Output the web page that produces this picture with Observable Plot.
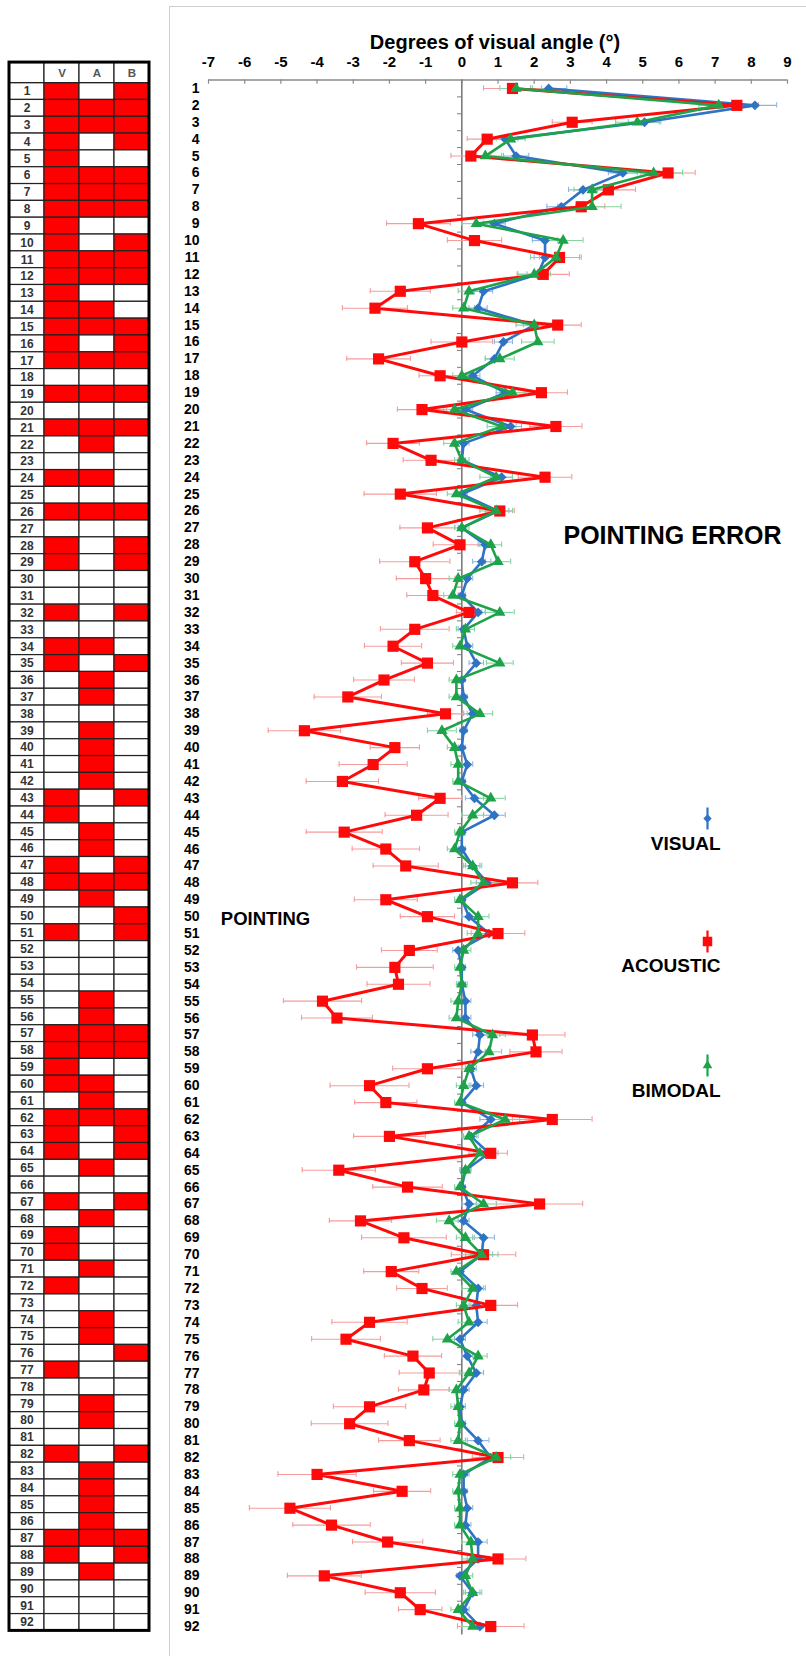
<!DOCTYPE html>
<html><head><meta charset="utf-8">
<script src="https://cdn.jsdelivr.net/npm/d3@7"></script>
<script src="https://cdn.jsdelivr.net/npm/@observablehq/plot@0.6"></script>
<style>
html,body{margin:0;padding:0;background:#fff;}
#wrap{position:relative;width:806px;height:1656px;overflow:hidden;font-family:"Liberation Sans",Arial,sans-serif;}
#wrap svg{position:absolute;top:0;left:0;background:transparent;}
#frame{position:absolute;left:169px;top:6px;right:0;bottom:0;border-left:1px solid #cfcfcf;border-top:1px solid #cfcfcf;}
</style></head><body><div id="wrap"><div id="frame"></div></div>
<script>
const FONT = "Liberation Sans, Arial, Helvetica, sans-serif";
const rows = d3.range(1, 93);
const xTicks = [-7,-6,-5,-4,-3,-2,-1,0,1,2,3,4,5,6,7,8,9];
const axisTitle = "Degrees of visual angle (°)";

const visual = [2.4,8.1,5.05,1.2,1.5,4.45,3.35,2.75,0.9,2.3,
 2.3,2.1,0.6,0.45,2.0,1.15,0.9,0.3,1.2,0.1,
 1.35,0.05,0.0,1.1,0.0,1.0,0.0,0.65,0.55,0.15,
 0.0,0.45,0.05,0.15,0.4,0.0,0.05,0.3,0.05,0.0,
 0.15,0.0,0.35,0.9,0.0,0.0,0.3,0.7,0.0,0.2,
 0.75,-0.1,0.0,0.0,0.1,0.1,0.5,0.45,0.25,0.4,
 0.0,0.8,0.25,0.75,0.1,0.0,0.2,0.05,0.6,0.55,
 -0.05,0.45,0.4,0.45,-0.05,0.15,0.4,0.05,-0.05,0.0,
 0.45,0.8,0.05,0.05,0.15,0.1,0.45,0.45,-0.05,0.3,
 0.05,0.5];
const acoustic = [1.4,7.6,3.05,0.7,0.25,5.7,4.05,3.3,-1.2,0.35,
 2.7,2.25,-1.7,-2.4,2.65,0.0,-2.3,-0.6,2.2,-1.1,
 2.6,-1.9,-0.85,2.3,-1.7,1.05,-0.95,-0.05,-1.3,-1.0,
 -0.8,0.2,-1.3,-1.9,-0.95,-2.15,-3.15,-0.45,-4.35,-1.85,
 -2.45,-3.3,-0.6,-1.25,-3.25,-2.1,-1.55,1.4,-2.1,-0.95,
 1.0,-1.45,-1.85,-1.75,-3.85,-3.45,1.95,2.05,-0.95,-2.55,
 -2.1,2.5,-2.0,0.8,-3.4,-1.5,2.15,-2.8,-1.6,0.6,
 -1.95,-1.1,0.8,-2.55,-3.2,-1.35,-0.9,-1.05,-2.55,-3.1,
 -1.45,1.0,-4.0,-1.65,-4.75,-3.6,-2.05,1.0,-3.8,-1.7,
 -1.15,0.8];
const bimodal = [1.5,7.1,4.85,1.35,0.65,5.3,3.6,3.6,0.4,2.8,
 2.6,2.0,0.2,0.05,2.0,2.1,1.05,0.0,1.4,-0.2,
 1.1,-0.2,0.0,0.95,-0.15,0.95,0.0,0.8,1.0,-0.1,
 -0.25,1.05,0.1,-0.05,1.05,-0.15,-0.15,0.5,-0.55,-0.2,
 -0.1,-0.1,0.8,0.3,-0.05,-0.2,0.3,0.6,-0.05,0.45,
 0.45,0.05,-0.05,0.0,-0.1,-0.15,0.85,0.75,0.2,0.05,
 -0.05,1.2,0.2,0.5,0.1,-0.05,0.6,-0.35,0.1,0.55,
 -0.15,0.3,0.05,0.2,-0.4,0.45,0.2,-0.15,-0.1,-0.05,
 -0.1,0.95,-0.05,-0.1,-0.05,-0.05,0.25,0.3,0.1,0.3,
 -0.1,0.3];

const visualErr = [0.5,0.6,0.45,0.35,0.35,0.4,0.4,0.4,0.3,0.35,
 0.3,0.3,0.25,0.25,0.3,0.25,0.25,0.2,0.25,0.2,
 0.3,0.15,0.1,0.3,0.15,0.3,0.1,0.2,0.25,0.15,
 0.1,0.2,0.15,0.15,0.2,0.1,0.1,0.25,0.1,0.1,
 0.15,0.1,0.25,0.3,0.1,0.1,0.2,0.3,0.1,0.2,
 0.25,0.15,0.1,0.1,0.15,0.15,0.2,0.2,0.15,0.2,
 0.1,0.3,0.2,0.25,0.15,0.1,0.2,0.15,0.3,0.3,
 0.1,0.2,0.2,0.25,0.15,0.15,0.2,0.15,0.15,0.1,
 0.3,0.3,0.15,0.1,0.15,0.15,0.25,0.3,0.1,0.2,
 0.15,0.25];
const acousticErr = [0.8,0.6,0.55,0.55,0.55,0.75,0.75,0.65,0.88,0.75,
 0.55,0.72,0.83,0.9,0.65,0.85,0.88,0.58,0.72,0.68,
 0.72,0.73,0.77,0.74,1.0,0.4,0.76,0.74,0.97,0.81,
 0.72,0.35,0.95,0.79,0.72,0.84,0.93,0.5,1.0,0.68,
 0.94,1.0,0.59,0.87,1.05,0.93,0.9,0.7,0.87,0.75,
 0.74,0.77,1.06,0.87,1.08,0.98,0.9,0.72,0.96,1.09,
 0.86,1.1,0.99,0.46,1.01,0.96,1.19,0.86,1.17,0.89,
 0.76,0.7,0.74,1.04,0.95,0.79,0.83,0.7,1.0,1.06,
 0.85,0.71,1.08,0.79,1.12,1.07,0.97,0.77,1.02,0.97,
 0.6,0.92];
const bimodalErr = [0.45,0.55,0.6,0.4,0.45,0.8,0.5,0.8,0.4,0.55,
 0.7,0.45,0.3,0.3,0.5,0.45,0.4,0.25,0.35,0.3,
 0.4,0.3,0.2,0.45,0.25,0.45,0.2,0.3,0.35,0.25,
 0.25,0.4,0.25,0.2,0.37,0.2,0.2,0.35,0.4,0.2,
 0.2,0.15,0.4,0.3,0.15,0.2,0.25,0.35,0.15,0.3,
 0.3,0.2,0.15,0.15,0.2,0.2,0.35,0.35,0.2,0.2,
 0.15,0.4,0.2,0.3,0.15,0.15,0.35,0.35,0.25,0.45,
 0.15,0.3,0.2,0.3,0.4,0.25,0.25,0.2,0.2,0.15,
 0.2,0.4,0.2,0.15,0.15,0.15,0.25,0.3,0.2,0.25,
 0.2,0.3];

// table of conditions (1 = red cell)
const tableCols = ["", "V", "A", "B"];
const tableV = "1111111111"+"1111111010"+"1001010110"+"0101100000"+"0011001100"+"1000001111"+"0111001011"+"0100001000"+"0100001100"+"00";
const tableA = "0110011100"+"1101101010"+"1101010000"+"0001011011"+"1100110110"+"0000111101"+"1100100100"+"1001100011"+"0011111010"+"00";
const tableB = "1111011101"+"1100111010"+"1000010110"+"0100100000"+"0010001101"+"1000001100"+"0111001000"+"0000010000"+"0100001100"+"00";

const annotations = ["POINTING ERROR", "POINTING"];

const series = [
  {name: "VISUAL", values: visual, errors: visualErr, color: "#2f74c4", errColor: "#8fb6e2", symbol: "diamond2", r: 4.4, sw: 2.6},
  {name: "ACOUSTIC", values: acoustic, errors: acousticErr, color: "#ff0a0a", errColor: "#f59c9c", symbol: "square", r: 6.3, sw: 3},
  {name: "BIMODAL", values: bimodal, errors: bimodalErr, color: "#1ea34b", errColor: "#86d4a2", symbol: "triangle", r: 4.2, sw: 2.6}
];
const recs = s => rows.map((row, i) => ({row, v: s.values[i], e: s.errors[i]}));

const vbar = {draw(ctx) { ctx.moveTo(-1.1, -11); ctx.lineTo(1.1, -11); ctx.lineTo(1.1, 11); ctx.lineTo(-1.1, 11); ctx.closePath(); }};

const ML = 208, MT = 79.5;
const legendPos = {VISUAL: [707, 818, 843], ACOUSTIC: [707, 941, 965], BIMODAL: [707, 1065, 1090]};

const marks = [
  Plot.ruleY([0.5], {x1: -7, x2: 9, stroke: "#8a8a8a", strokeWidth: 1.5}),
  Plot.ruleX(xTicks, {x: d => d, y1: 0.5, y2: 0.75, stroke: "#8a8a8a", strokeWidth: 1.2}),
  Plot.axisX({anchor: "top", ticks: xTicks, tickSize: 0, tickPadding: 13, tickFormat: d => String(d), fontSize: 15, fontWeight: "bold", label: null}),
  Plot.text([axisTitle], {text: d => d, frameAnchor: "top", dx: -3, dy: -37, lineAnchor: "middle", fontSize: 20, fontWeight: "bold"}),
  Plot.axisY({anchor: "left", ticks: rows, tickSize: 0, tickPadding: 9, fontSize: 14, fontWeight: "bold", label: null}),
  Plot.ruleX([0], {y1: 0.5, y2: 92.5, stroke: "#7c7c7c", strokeWidth: 1.6}),
  Plot.ruleY(rows.slice(0, -1), {y: d => d + 0.5, x1: -0.12, x2: 0, stroke: "#7c7c7c", strokeWidth: 1})
];
for (const s of series) {
  const data = recs(s);
  marks.push(
    Plot.ruleY(data, {y: "row", x1: d => d.v - d.e, x2: d => d.v + d.e, stroke: s.errColor, strokeWidth: 1.1}),
    Plot.ruleX(data, {x: d => d.v - d.e, y1: d => d.row - 0.16, y2: d => d.row + 0.16, stroke: s.errColor, strokeWidth: 1.1}),
    Plot.ruleX(data, {x: d => d.v + d.e, y1: d => d.row - 0.16, y2: d => d.row + 0.16, stroke: s.errColor, strokeWidth: 1.1})
  );
}
for (const s of series) {
  const data = recs(s);
  marks.push(
    Plot.line(data, {x: "v", y: "row", stroke: s.color, strokeWidth: s.sw, curve: "linear"}),
    Plot.dot(data, {x: "v", y: "row", symbol: s.symbol, r: s.r, fill: s.color, stroke: "none"})
  );
  const [lx, ly, ty] = legendPos[s.name];
  marks.push(
    Plot.dot([0], {frameAnchor: "top-left", dx: lx - ML, dy: ly - MT, symbol: vbar, fill: s.color, stroke: "none"}),
    Plot.dot([0], {frameAnchor: "top-left", dx: lx - ML, dy: ly - MT, symbol: s.symbol, r: s.r * 0.85, fill: s.color, stroke: "none"}),
    Plot.text([s.name], {text: d => d, frameAnchor: "top-left", dx: 720 - ML, dy: ty - MT, textAnchor: "end", lineAnchor: "middle", fontSize: 19, fontWeight: "bold"})
  );
}
marks.push(
  Plot.text([annotations[0]], {text: d => d, frameAnchor: "top-left", dx: 672 - ML, dy: 535 - MT, textAnchor: "middle", lineAnchor: "middle", fontSize: 25, fontWeight: "bold"}),
  Plot.text([annotations[1]], {text: d => d, frameAnchor: "top-left", dx: 265 - ML, dy: 919 - MT, textAnchor: "middle", lineAnchor: "middle", fontSize: 18.5, fontWeight: "bold"})
);

const main = Plot.plot({
  width: 806, height: 1656,
  marginLeft: ML, marginRight: 19, marginTop: MT, marginBottom: 21.5,
  x: {domain: [-7, 9]},
  y: {domain: [0.5, 92.5], reverse: true},
  style: {fontFamily: FONT, background: "transparent", color: "#000"},
  marks
});

// table
const flags = [null, tableV, tableA, tableB];
const cells = [];
rows.forEach((row, i) => tableCols.forEach((c, j) => cells.push({row, col: j, on: j === 0 ? 0 : +flags[j][i]})));
const table = Plot.plot({
  width: 160, height: 1656,
  marginLeft: 9, marginRight: 11, marginTop: 82.6, marginBottom: 25.6,
  x: {domain: [0, 4], axis: null},
  y: {domain: [0.5, 92.5], reverse: true, axis: null},
  color: {type: "identity"},
  style: {fontFamily: FONT, background: "transparent", color: "#111"},
  marks: [
    Plot.rect(cells, {x1: "col", x2: d => d.col + 1, y1: d => d.row - 0.5, y2: d => d.row + 0.5, fill: d => d.on ? "#ff0000" : "#ffffff", stroke: "#222", strokeWidth: 1.2}),
    Plot.rect(tableCols, {x1: (d, j) => j, x2: (d, j) => j + 1, y1: -0.72, y2: 0.5, fill: "#ffffff", stroke: "#222", strokeWidth: 1.2}),
    Plot.text(tableCols.slice(1), {x: (d, j) => j + 1.5, y: -0.1, text: d => d, fill: "#555", fontSize: 11.5, fontWeight: "bold"}),
    Plot.text(rows, {x: 0.5, y: d => d, text: d => String(d), fontWeight: "bold", fontSize: 12, fill: "#333"}),
    Plot.rect([0], {x1: 0, x2: 4, y1: -0.72, y2: 92.5, fill: "none", stroke: "#000", strokeWidth: 3})
  ]
});

const wrap = document.getElementById("wrap");
wrap.appendChild(main);
wrap.appendChild(table);
</script></body></html>
